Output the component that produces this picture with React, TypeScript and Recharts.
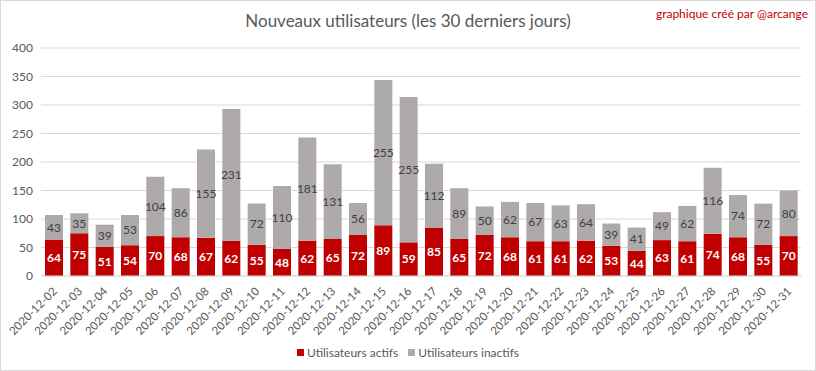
import { BarChart, Bar, XAxis, YAxis, CartesianGrid, LabelList } from 'recharts';

const dates = [
  '2020-12-02', '2020-12-03', '2020-12-04', '2020-12-05', '2020-12-06', '2020-12-07',
  '2020-12-08', '2020-12-09', '2020-12-10', '2020-12-11', '2020-12-12', '2020-12-13',
  '2020-12-14', '2020-12-15', '2020-12-16', '2020-12-17', '2020-12-18', '2020-12-19',
  '2020-12-20', '2020-12-21', '2020-12-22', '2020-12-23', '2020-12-24', '2020-12-25',
  '2020-12-26', '2020-12-27', '2020-12-28', '2020-12-29', '2020-12-30', '2020-12-31',
];
const actifs = [64, 75, 51, 54, 70, 68, 67, 62, 55, 48, 62, 65, 72, 89, 59, 85, 65, 72, 68, 61, 61, 62, 53, 44, 63, 61, 74, 68, 55, 70];
const inactifs = [43, 35, 39, 53, 104, 86, 155, 231, 72, 110, 181, 131, 56, 255, 255, 112, 89, 50, 62, 67, 63, 64, 39, 41, 49, 62, 116, 74, 72, 80];
const yTicks = [0, 50, 100, 150, 200, 250, 300, 350, 400];

const data = dates.map((d, i) => ({ date: d, actifs: actifs[i], inactifs: inactifs[i] }));

const FONT = 'Lato, "Open Sans", sans-serif';
const RED = '#c00000';
const GRAY = '#aeaaaa';

function DateTick(props: any) {
  const { x, y, payload } = props;
  return (
    <text
      x={x + 4}
      y={y + 8}
      transform={`rotate(-45 ${x + 4} ${y + 8})`}
      textAnchor="end"
      fontSize={11.5}
      fill="#595959"
      fontFamily={FONT}
    >
      {payload.value}
    </text>
  );
}

export default function App() {
  return (
    <div
      style={{
        position: 'absolute',
        top: 0,
        left: 0,
        width: 814,
        height: 369,
        border: '1px solid #d9d9d9',
        background: '#fff',
        fontFamily: FONT,
      }}
    >
      <div
        style={{
          position: 'absolute',
          top: 9,
          left: 0,
          width: 814,
          textAlign: 'center',
          fontSize: 17,
          color: '#595959',
        }}
      >
        Nouveaux utilisateurs (les 30 derniers jours)
      </div>
      <div style={{ position: 'absolute', top: 5, right: 7, fontSize: 12, color: RED }}>
        graphique créé par @arcange
      </div>
      <BarChart
        width={814}
        height={369}
        data={data}
        margin={{ top: 47, right: 14, left: 0, bottom: 24 }}
        barSize={18}
      >
        <CartesianGrid vertical={false} stroke="#d9d9d9" />
        <XAxis
          dataKey="date"
          interval={0}
          height={70}
          tick={<DateTick />}
          tickLine={false}
          axisLine={{ stroke: '#d9d9d9' }}
        />
        <YAxis
          width={40}
          domain={[0, 400]}
          ticks={yTicks}
          tickLine={false}
          axisLine={false}
          tick={{ fill: '#595959', fontSize: 12, fontFamily: FONT }}
        />
        <Bar dataKey="actifs" stackId="a" fill={RED} isAnimationActive={false}>
          <LabelList
            dataKey="actifs"
            position="center"
            fill="#fff"
            stroke="none"
            fontSize={12}
            fontWeight="bold"
            fontFamily={FONT}
          />
        </Bar>
        <Bar dataKey="inactifs" stackId="a" fill={GRAY} isAnimationActive={false}>
          <LabelList
            dataKey="inactifs"
            position="center"
            fill="#404040"
            stroke="none"
            fontSize={12}
            fontFamily={FONT}
          />
        </Bar>
      </BarChart>
      <div
        style={{
          position: 'absolute',
          top: 344,
          left: 0,
          width: 814,
          display: 'flex',
          justifyContent: 'center',
          fontSize: 12,
          color: '#595959',
          gap: 10,
        }}
      >
        <span style={{ display: 'flex', alignItems: 'center' }}>
          <span style={{ width: 7, height: 7, background: RED, marginRight: 3 }} />
          Utilisateurs actifs
        </span>
        <span style={{ display: 'flex', alignItems: 'center' }}>
          <span style={{ width: 7, height: 7, background: GRAY, marginRight: 3 }} />
          Utilisateurs inactifs
        </span>
      </div>
    </div>
  );
}
